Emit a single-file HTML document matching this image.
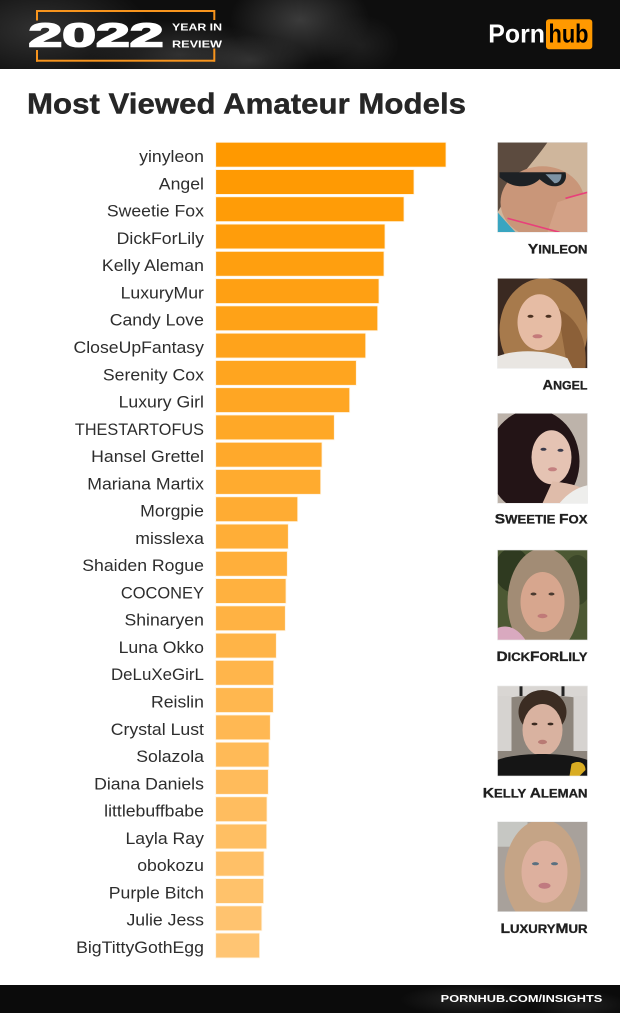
<!DOCTYPE html>
<html><head><meta charset="utf-8"><style>
html,body{margin:0;padding:0;background:#fff;}
svg{display:block;}
</style></head><body>
<svg width="620" height="1013" viewBox="0 0 620 1013" xmlns="http://www.w3.org/2000/svg" font-family="'Liberation Sans', Arial, sans-serif">
<defs>
<radialGradient id="g1" cx="0.5" cy="0.5" r="0.5"><stop offset="0" stop-color="#4a4a4a" stop-opacity="0.75"/><stop offset="1" stop-color="#4a4a4a" stop-opacity="0"/></radialGradient>
<radialGradient id="g2" cx="0.5" cy="0.5" r="0.5"><stop offset="0" stop-color="#3a3a3a" stop-opacity="0.8"/><stop offset="1" stop-color="#3a3a3a" stop-opacity="0"/></radialGradient>
<clipPath id="cp"><rect x="0" y="0" width="90" height="90"/></clipPath>
<clipPath id="hclip"><rect x="0" y="0" width="620" height="69"/></clipPath>
<clipPath id="fclip"><rect x="0" y="985" width="620" height="28"/></clipPath>
</defs>

<!-- header -->
<rect x="0" y="0" width="620" height="69" fill="#0e0e0e"/>
<g clip-path="url(#hclip)">
<ellipse cx="40" cy="30" rx="110" ry="55" fill="url(#g2)"/>
<ellipse cx="180" cy="55" rx="90" ry="35" fill="url(#g2)"/>
<ellipse cx="300" cy="20" rx="70" ry="45" fill="url(#g1)"/>
<ellipse cx="250" cy="60" rx="60" ry="25" fill="url(#g2)"/>
<ellipse cx="360" cy="45" rx="40" ry="30" fill="url(#g2)" opacity="0.5"/>
</g>

<!-- bracket -->
<g fill="#f7941d">
<rect x="36" y="10" width="179" height="2"/>
<rect x="36" y="59.7" width="179" height="2"/>
<rect x="36" y="10" width="2" height="10.5"/>
<rect x="36" y="50" width="2" height="11.7"/>
<rect x="213.3" y="10" width="2" height="10"/>
<rect x="213.3" y="48.5" width="2" height="13.2"/>
</g>
<text x="28.5" y="46.7" font-size="33" font-weight="bold" fill="#fff" stroke="#fff" stroke-width="1.6" textLength="135" lengthAdjust="spacingAndGlyphs">2022</text>
<text x="172" y="30.7" font-size="10.4" font-weight="bold" fill="#fff" textLength="50" lengthAdjust="spacingAndGlyphs">YEAR IN</text>
<text x="172" y="47.3" font-size="10.4" font-weight="bold" fill="#fff" textLength="50" lengthAdjust="spacingAndGlyphs">REVIEW</text>

<!-- logo -->
<text x="488.3" y="42.7" font-size="25.6" font-weight="bold" fill="#fff" textLength="56.7" lengthAdjust="spacingAndGlyphs">Porn</text>
<rect x="546" y="19.3" width="46.3" height="30" rx="3" fill="#ff9900"/>
<text x="548.5" y="42.7" font-size="25.6" font-weight="bold" fill="#000" textLength="40" lengthAdjust="spacingAndGlyphs">hub</text>

<!-- title -->
<text x="27" y="113.3" font-size="28.3" font-weight="bold" fill="#262626" stroke="#262626" stroke-width="0.4" textLength="439" lengthAdjust="spacingAndGlyphs">Most Viewed Amateur Models</text>

<!-- bars -->
<g stroke="#fff3e0" stroke-width="0.8">
<rect x="215.7" y="142.3" width="230.3" height="24.8" fill="#ff9900"/>
<rect x="215.7" y="169.6" width="198.3" height="24.8" fill="#ff9a03"/>
<rect x="215.7" y="196.8" width="188.3" height="24.8" fill="#ff9c07"/>
<rect x="215.7" y="224.1" width="169.3" height="24.8" fill="#ff9d0b"/>
<rect x="215.7" y="251.4" width="168.3" height="24.8" fill="#ff9f0f"/>
<rect x="215.7" y="278.7" width="163.3" height="24.8" fill="#ffa013"/>
<rect x="215.7" y="305.9" width="162" height="24.8" fill="#ffa217"/>
<rect x="215.7" y="333.2" width="150" height="24.8" fill="#ffa31b"/>
<rect x="215.7" y="360.5" width="140.6" height="24.8" fill="#ffa51f"/>
<rect x="215.7" y="387.7" width="134" height="24.8" fill="#ffa623"/>
<rect x="215.7" y="415" width="118.6" height="24.8" fill="#ffa827"/>
<rect x="215.7" y="442.3" width="106.3" height="24.8" fill="#ffa92b"/>
<rect x="215.7" y="469.5" width="105" height="24.8" fill="#ffab2f"/>
<rect x="215.7" y="496.8" width="82" height="24.8" fill="#ffac33"/>
<rect x="215.7" y="524.1" width="72.6" height="24.8" fill="#ffae37"/>
<rect x="215.7" y="551.4" width="71.6" height="24.8" fill="#ffaf3b"/>
<rect x="215.7" y="578.6" width="70.3" height="24.8" fill="#ffb13f"/>
<rect x="215.7" y="605.9" width="69.6" height="24.8" fill="#ffb243"/>
<rect x="215.7" y="633.2" width="60.6" height="24.8" fill="#ffb447"/>
<rect x="215.7" y="660.4" width="58" height="24.8" fill="#ffb54b"/>
<rect x="215.7" y="687.7" width="57.6" height="24.8" fill="#ffb74f"/>
<rect x="215.7" y="715" width="54.6" height="24.8" fill="#ffb853"/>
<rect x="215.7" y="742.2" width="53.3" height="24.8" fill="#ffba57"/>
<rect x="215.7" y="769.5" width="52.6" height="24.8" fill="#ffbb5b"/>
<rect x="215.7" y="796.8" width="51.3" height="24.8" fill="#ffbd5f"/>
<rect x="215.7" y="824.1" width="51" height="24.8" fill="#ffbf63"/>
<rect x="215.7" y="851.3" width="48.3" height="24.8" fill="#ffc067"/>
<rect x="215.7" y="878.6" width="47.9" height="24.8" fill="#ffc26b"/>
<rect x="215.7" y="905.9" width="46.1" height="24.8" fill="#ffc36f"/>
<rect x="215.7" y="933.1" width="43.9" height="24.8" fill="#ffc573"/>
</g>

<!-- labels -->
<g transform="scale(1.07,1)" font-size="16.5" fill="#2d2d2d" text-anchor="end">
<text x="190.6" y="162.1">yinyleon</text>
<text x="190.6" y="189.4">Angel</text>
<text x="190.6" y="216.6">Sweetie Fox</text>
<text x="190.6" y="243.9">DickForLily</text>
<text x="190.6" y="271.2">Kelly Aleman</text>
<text x="190.6" y="298.5">LuxuryMur</text>
<text x="190.6" y="325.7">Candy Love</text>
<text x="190.6" y="353">CloseUpFantasy</text>
<text x="190.6" y="380.3">Serenity Cox</text>
<text x="190.6" y="407.5">Luxury Girl</text>
<text x="190.6" y="434.8" textLength="120.6" lengthAdjust="spacingAndGlyphs">THESTARTOFUS</text>
<text x="190.6" y="462.1">Hansel Grettel</text>
<text x="190.6" y="489.3">Mariana Martix</text>
<text x="190.6" y="516.6">Morgpie</text>
<text x="190.6" y="543.9">misslexa</text>
<text x="190.6" y="571.2">Shaiden Rogue</text>
<text x="190.6" y="598.4" textLength="77.6" lengthAdjust="spacingAndGlyphs">COCONEY</text>
<text x="190.6" y="625.7">Shinaryen</text>
<text x="190.6" y="653">Luna Okko</text>
<text x="190.6" y="680.2" textLength="86.9" lengthAdjust="spacingAndGlyphs">DeLuXeGirL</text>
<text x="190.6" y="707.5">Reislin</text>
<text x="190.6" y="734.8">Crystal Lust</text>
<text x="190.6" y="762">Solazola</text>
<text x="190.6" y="789.3">Diana Daniels</text>
<text x="190.6" y="816.6">littlebuffbabe</text>
<text x="190.6" y="843.9">Layla Ray</text>
<text x="190.6" y="871.1">obokozu</text>
<text x="190.6" y="898.4">Purple Bitch</text>
<text x="190.6" y="925.7">Julie Jess</text>
<text x="190.6" y="952.9">BigTittyGothEgg</text>
</g>

<!-- photo 1 yinleon -->
<g transform="translate(497.5,142.3)" clip-path="url(#cp)">
<rect width="90" height="90" fill="#cfb69c"/>
<path d="M0 0 H50 C42 12 30 25 15 45 L0 70 Z" fill="#5c4b3f"/>
<ellipse cx="45" cy="60" rx="42" ry="36" fill="#c99679"/>
<path d="M60 60 L90 50 V90 H50 Z" fill="#d3a186"/>
<path d="M2 30 H68 C70 37 66 44 57 44 C50 44 46 40 42 37 C38 41 32 44 24 44 C13 44 6 38 2 35 Z" fill="#1d2125"/>
<path d="M48 32 H64 C64 38 61 41 57 41 Z" fill="#7e93a4"/>
<path d="M0 70 L18 90 H0 Z" fill="#39a5c0"/>
<path d="M10 76 L62 90" stroke="#e8407a" stroke-width="1.6"/>
<path d="M68 56 L90 50" stroke="#e8407a" stroke-width="1.6"/>
</g>
<rect x="497.5" y="142.3" width="90" height="90" fill="none" stroke="#e8e8e8" stroke-width="0.6"/>

<!-- photo 2 angel -->
<g transform="translate(497.5,278.3)" clip-path="url(#cp)">
<rect width="90" height="90" fill="#3a2921"/>
<ellipse cx="46" cy="52" rx="44" ry="52" fill="#a77a4c"/>
<path d="M60 30 C80 40 90 60 88 90 H70 Z" fill="#8c6038"/>
<ellipse cx="42" cy="44" rx="22" ry="28" fill="#e6bca4"/>
<ellipse cx="33" cy="38" rx="3" ry="1.5" fill="#4a3020"/>
<ellipse cx="51" cy="38" rx="3" ry="1.5" fill="#4a3020"/>
<ellipse cx="40" cy="58" rx="5" ry="2" fill="#c47a7a"/>
<path d="M0 78 C20 70 50 72 70 80 L75 90 H0 Z" fill="#e9e6e2"/>
</g>
<rect x="497.5" y="278.3" width="90" height="90" fill="none" stroke="#e8e8e8" stroke-width="0.6"/>

<!-- photo 3 sweetie fox -->
<g transform="translate(497.5,413.3)" clip-path="url(#cp)">
<rect width="90" height="90" fill="#bdb3aa"/>
<ellipse cx="36" cy="48" rx="46" ry="52" fill="#231416"/>
<ellipse cx="54" cy="44" rx="20" ry="27" fill="#e5c3b3"/>
<path d="M55 68 C70 70 85 72 90 80 V90 H45 Z" fill="#dfbcaa"/>
<path d="M62 90 C70 80 80 74 90 72 V90 Z" fill="#eeeeec"/>
<ellipse cx="46" cy="36" rx="3" ry="1.5" fill="#3a3a4a"/>
<ellipse cx="63" cy="37" rx="3" ry="1.5" fill="#3a3a4a"/>
<ellipse cx="55" cy="56" rx="4.5" ry="2" fill="#c48080"/>
</g>
<rect x="497.5" y="413.3" width="90" height="90" fill="none" stroke="#e8e8e8" stroke-width="0.6"/>

<!-- photo 4 dickforlily -->
<g transform="translate(497.5,550)" clip-path="url(#cp)">
<rect width="90" height="90" fill="#4c5833"/>
<ellipse cx="15" cy="20" rx="18" ry="22" fill="#2f3a20"/>
<ellipse cx="80" cy="30" rx="15" ry="25" fill="#3a4628"/>
<ellipse cx="46" cy="52" rx="36" ry="54" fill="#a28c75"/>
<ellipse cx="45" cy="52" rx="22" ry="30" fill="#d7a68e"/>
<ellipse cx="36" cy="44" rx="3" ry="1.5" fill="#4a3a30"/>
<ellipse cx="54" cy="44" rx="3" ry="1.5" fill="#4a3a30"/>
<ellipse cx="45" cy="66" rx="5" ry="2.2" fill="#c07a78"/>
<path d="M0 78 C10 74 20 78 28 90 H0 Z" fill="#d9a9bf"/>
</g>
<rect x="497.5" y="550" width="90" height="90" fill="none" stroke="#e8e8e8" stroke-width="0.6"/>

<!-- photo 5 kelly aleman -->
<g transform="translate(497.5,686)" clip-path="url(#cp)">
<rect width="90" height="90" fill="#8d857c"/>
<path d="M0 0 H90 V14 C70 8 20 8 0 14 Z" fill="#d9d6d3"/>
<path d="M0 10 H14 V65 H0 Z" fill="#d6d3d0"/>
<path d="M76 10 H90 V65 H76 Z" fill="#d6d3d0"/>
<rect x="22" y="0" width="3" height="10" fill="#222"/>
<rect x="64" y="0" width="3" height="10" fill="#222"/>
<ellipse cx="45" cy="26" rx="24" ry="22" fill="#3b2c22"/>
<ellipse cx="45" cy="44" rx="20" ry="26" fill="#d9b2a0"/>
<ellipse cx="37" cy="38" rx="3" ry="1.4" fill="#3a2a20"/>
<ellipse cx="53" cy="38" rx="3" ry="1.4" fill="#3a2a20"/>
<ellipse cx="45" cy="56" rx="4.5" ry="2.2" fill="#b87a74"/>
<path d="M0 74 C20 66 70 66 90 74 V90 H0 Z" fill="#151515"/>
<path d="M74 78 C80 74 88 76 88 84 L82 90 H72 Z" fill="#d9ac22"/>
</g>
<rect x="497.5" y="686" width="90" height="90" fill="none" stroke="#e8e8e8" stroke-width="0.6"/>

<!-- photo 6 luxurymur -->
<g transform="translate(497.5,821.7)" clip-path="url(#cp)">
<rect width="90" height="90" fill="#a8a19b"/>
<rect x="0" y="0" width="30" height="25" fill="#c6c7c3"/>
<ellipse cx="45" cy="52" rx="38" ry="54" fill="#c5a486"/>
<ellipse cx="47" cy="50" rx="23" ry="31" fill="#ddb09e"/>
<ellipse cx="38" cy="42" rx="3.5" ry="1.6" fill="#5a7080"/>
<ellipse cx="57" cy="42" rx="3.5" ry="1.6" fill="#5a7080"/>
<ellipse cx="47" cy="64" rx="6" ry="3" fill="#c07a80"/>
</g>
<rect x="497.5" y="821.7" width="90" height="90" fill="none" stroke="#e8e8e8" stroke-width="0.6"/>

<!-- names -->
<g font-weight="bold" fill="#1f1f1f" stroke="#1f1f1f" stroke-width="0.3">
<text x="527.9" y="253.3" textLength="59.6" lengthAdjust="spacingAndGlyphs"><tspan font-size="14">Y</tspan><tspan font-size="11.8">INLEON</tspan></text>
<text x="542.5" y="389.3" textLength="45" lengthAdjust="spacingAndGlyphs"><tspan font-size="14">A</tspan><tspan font-size="11.8">NGEL</tspan></text>
<text x="494.8" y="523.3" textLength="92.7" lengthAdjust="spacingAndGlyphs"><tspan font-size="14">S</tspan><tspan font-size="11.8">WEETIE </tspan><tspan font-size="14">F</tspan><tspan font-size="11.8">OX</tspan></text>
<text x="496.5" y="661" textLength="91" lengthAdjust="spacingAndGlyphs"><tspan font-size="14">D</tspan><tspan font-size="11.8">ICK</tspan><tspan font-size="14">F</tspan><tspan font-size="11.8">OR</tspan><tspan font-size="14">L</tspan><tspan font-size="11.8">ILY</tspan></text>
<text x="482.8" y="797.5" textLength="104.7" lengthAdjust="spacingAndGlyphs"><tspan font-size="14">K</tspan><tspan font-size="11.8">ELLY </tspan><tspan font-size="14">A</tspan><tspan font-size="11.8">LEMAN</tspan></text>
<text x="500.5" y="933" textLength="87" lengthAdjust="spacingAndGlyphs"><tspan font-size="14">L</tspan><tspan font-size="11.8">UXURY</tspan><tspan font-size="14">M</tspan><tspan font-size="11.8">UR</tspan></text>
</g>

<!-- footer -->
<rect x="0" y="985" width="620" height="28" fill="#0b0b0b"/>
<g clip-path="url(#fclip)">
<ellipse cx="470" cy="1000" rx="70" ry="16" fill="url(#g2)" opacity="0.7"/>
<ellipse cx="580" cy="1005" rx="50" ry="14" fill="url(#g2)" opacity="0.6"/>
</g>
<text x="440.7" y="1002" font-size="10.5" font-weight="bold" fill="#fff" textLength="161.6" lengthAdjust="spacingAndGlyphs">PORNHUB.COM/INSIGHTS</text>
</svg>
</body></html>
